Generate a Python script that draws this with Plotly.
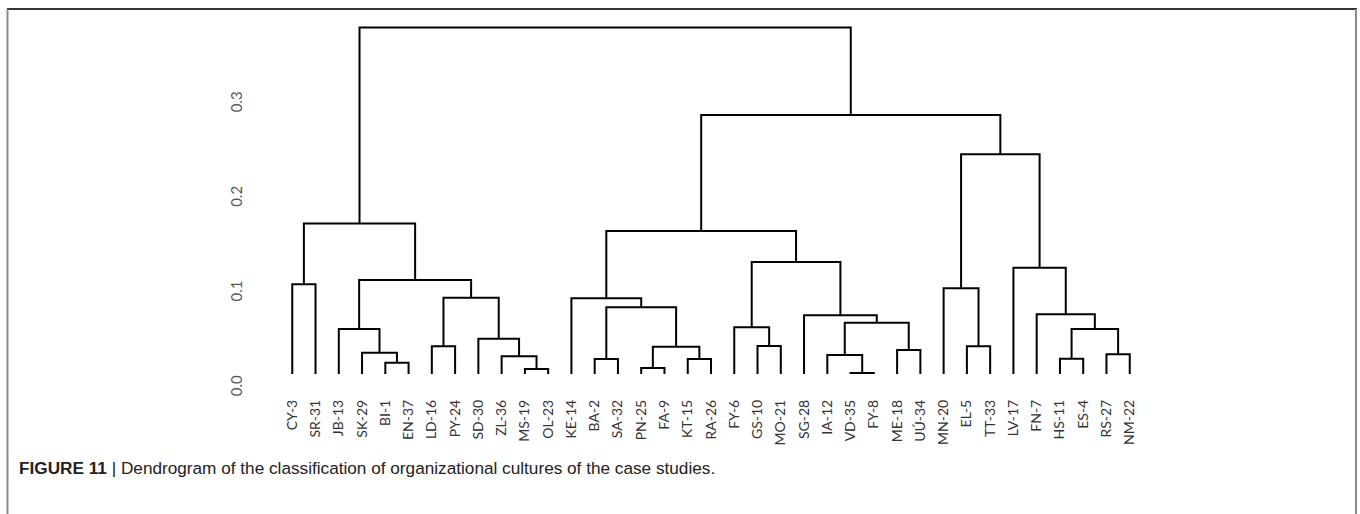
import plotly.graph_objects as go

# Leaf labels in dendrogram order
labels = ["CY-3", "SR-31", "JB-13", "SK-29", "BI-1", "EN-37", "LD-16", "PY-24",
          "SD-30", "ZL-36", "MS-19", "OL-23", "KE-14", "BA-2", "SA-32", "PN-25",
          "FA-9", "KT-15", "RA-26", "FY-6", "GS-10", "MO-21", "SG-28", "IA-12",
          "VD-35", "FY-8", "ME-18", "UÚ-34", "MN-20", "EL-5", "TT-33", "LV-17",
          "FN-7", "HS-11", "ES-4", "RS-27", "NM-22"]

# Agglomeration steps: a string is a leaf, an int k refers to merge step k (1-based)
merge_left = ["VD-35", "MS-19", "PN-25", "BI-1", "BA-2", "KT-15", "HS-11", "ZL-36",
              "IA-12", "RS-27", "SK-29", "ME-18", 3, "LD-16", "EL-5", "GS-10",
              "SD-30", "JB-13", 7, "FY-6", 9, "SG-28", "FN-7", 5, "KE-14", 14,
              "MN-20", "CY-3", 18, "LV-17", 20, 25, 28, 27, 32, 33]
merge_right = ["FY-8", "OL-23", "FA-9", "EN-37", "SA-32", "RA-26", "ES-4", 2,
               1, "NM-22", 4, "UÚ-34", 6, "PY-24", "TT-33", "MO-21",
               8, 11, 10, 16, 12, 21, 19, 13, 24, 17,
               15, "SR-31", 26, 23, 22, 31, 29, 30, 34, 35]
merge_height = [0.0010, 0.0053, 0.0063, 0.0119, 0.0158, 0.0158, 0.0162, 0.0187,
                0.0200, 0.0208, 0.0225, 0.0253, 0.0289, 0.0292, 0.0292, 0.0296,
                0.0373, 0.0475, 0.0475, 0.0493, 0.0542, 0.0620, 0.0630, 0.0704,
                0.0799, 0.0806, 0.0905, 0.0947, 0.0993, 0.1123, 0.1183, 0.1510,
                0.1590, 0.2320, 0.2735, 0.3660]

y_ticks = [0.0, 0.1, 0.2, 0.3]
y_ticktext = ["0.0", "0.1", "0.2", "0.3"]

caption = ("<b>FIGURE 11</b> | Dendrogram of the classification of "
           "organizational cultures of the case studies.")

# ---- build dendrogram segments ----
leaf_x = {name: i for i, name in enumerate(labels)}
node_x, node_h = {}, {}


def child_pos(c):
    if isinstance(c, str):
        return leaf_x[c], 0.0
    return node_x[c], node_h[c]


xs, ys = [], []
for k, (a, b, h) in enumerate(zip(merge_left, merge_right, merge_height), start=1):
    xa, ha = child_pos(a)
    xb, hb = child_pos(b)
    xs += [xa, xa, xb, xb, None]
    ys += [ha, h, h, hb, None]
    node_x[k] = (xa + xb) / 2
    node_h[k] = h

W, H = 1360, 514
ML, MR, MT, MB = 269, 207, 14, 120
PW, PH = W - ML - MR, H - MT - MB
y_zero_px = 374
px_per_unit = 947
y_min = -(H - MB - y_zero_px) / px_per_unit
y_max = y_min + PH / px_per_unit


def paper_x(px):
    return (px - ML) / PW


def paper_y(py):
    return (H - MB - py) / PH


fig = go.Figure()
fig.add_trace(go.Scatter(x=xs, y=ys, mode="lines",
                         line=dict(color="#000000", width=2),
                         hoverinfo="skip", showlegend=False))

fig.update_layout(
    width=W, height=H,
    margin=dict(l=ML, r=MR, t=MT, b=MB, pad=0),
    paper_bgcolor="white", plot_bgcolor="white",
    showlegend=False,
    xaxis=dict(range=[-1, len(labels)], tickmode="array",
               tickvals=list(range(len(labels))), ticktext=labels,
               tickangle=-90, showgrid=False, zeroline=False, showline=False,
               ticks="", ticklabelstandoff=2,
               tickfont=dict(family="Lato, Open Sans, sans-serif", size=14,
                             color="#333333")),
    yaxis=dict(range=[y_min, y_max], tickmode="array", tickvals=y_ticks,
               ticktext=y_ticktext, tickangle=-90, showgrid=False,
               zeroline=False, showline=False, ticks="",
               ticklabelstandoff=23, ticklabelshift=14,
               tickfont=dict(family="Lato, Open Sans, sans-serif", size=15,
                             color="#555555")),
    shapes=[
        dict(type="line", xref="paper", yref="paper",
             x0=paper_x(7), x1=paper_x(1357), y0=paper_y(9), y1=paper_y(9),
             line=dict(color="#333333", width=2)),
        dict(type="line", xref="paper", yref="paper",
             x0=paper_x(7.5), x1=paper_x(7.5), y0=paper_y(9), y1=paper_y(520),
             line=dict(color="#8a8a8a", width=2)),
        dict(type="line", xref="paper", yref="paper",
             x0=paper_x(1356), x1=paper_x(1356), y0=paper_y(9), y1=paper_y(520),
             line=dict(color="#8a8a8a", width=2)),
    ],
    annotations=[
        dict(text=caption, xref="paper", yref="paper",
             x=paper_x(17), y=paper_y(468), xanchor="left", yanchor="middle",
             showarrow=False, align="left",
             font=dict(family="Liberation Sans, Arial, sans-serif",
                       size=17.2, color="#222222")),
    ],
)

fig.write_html("out.html")
